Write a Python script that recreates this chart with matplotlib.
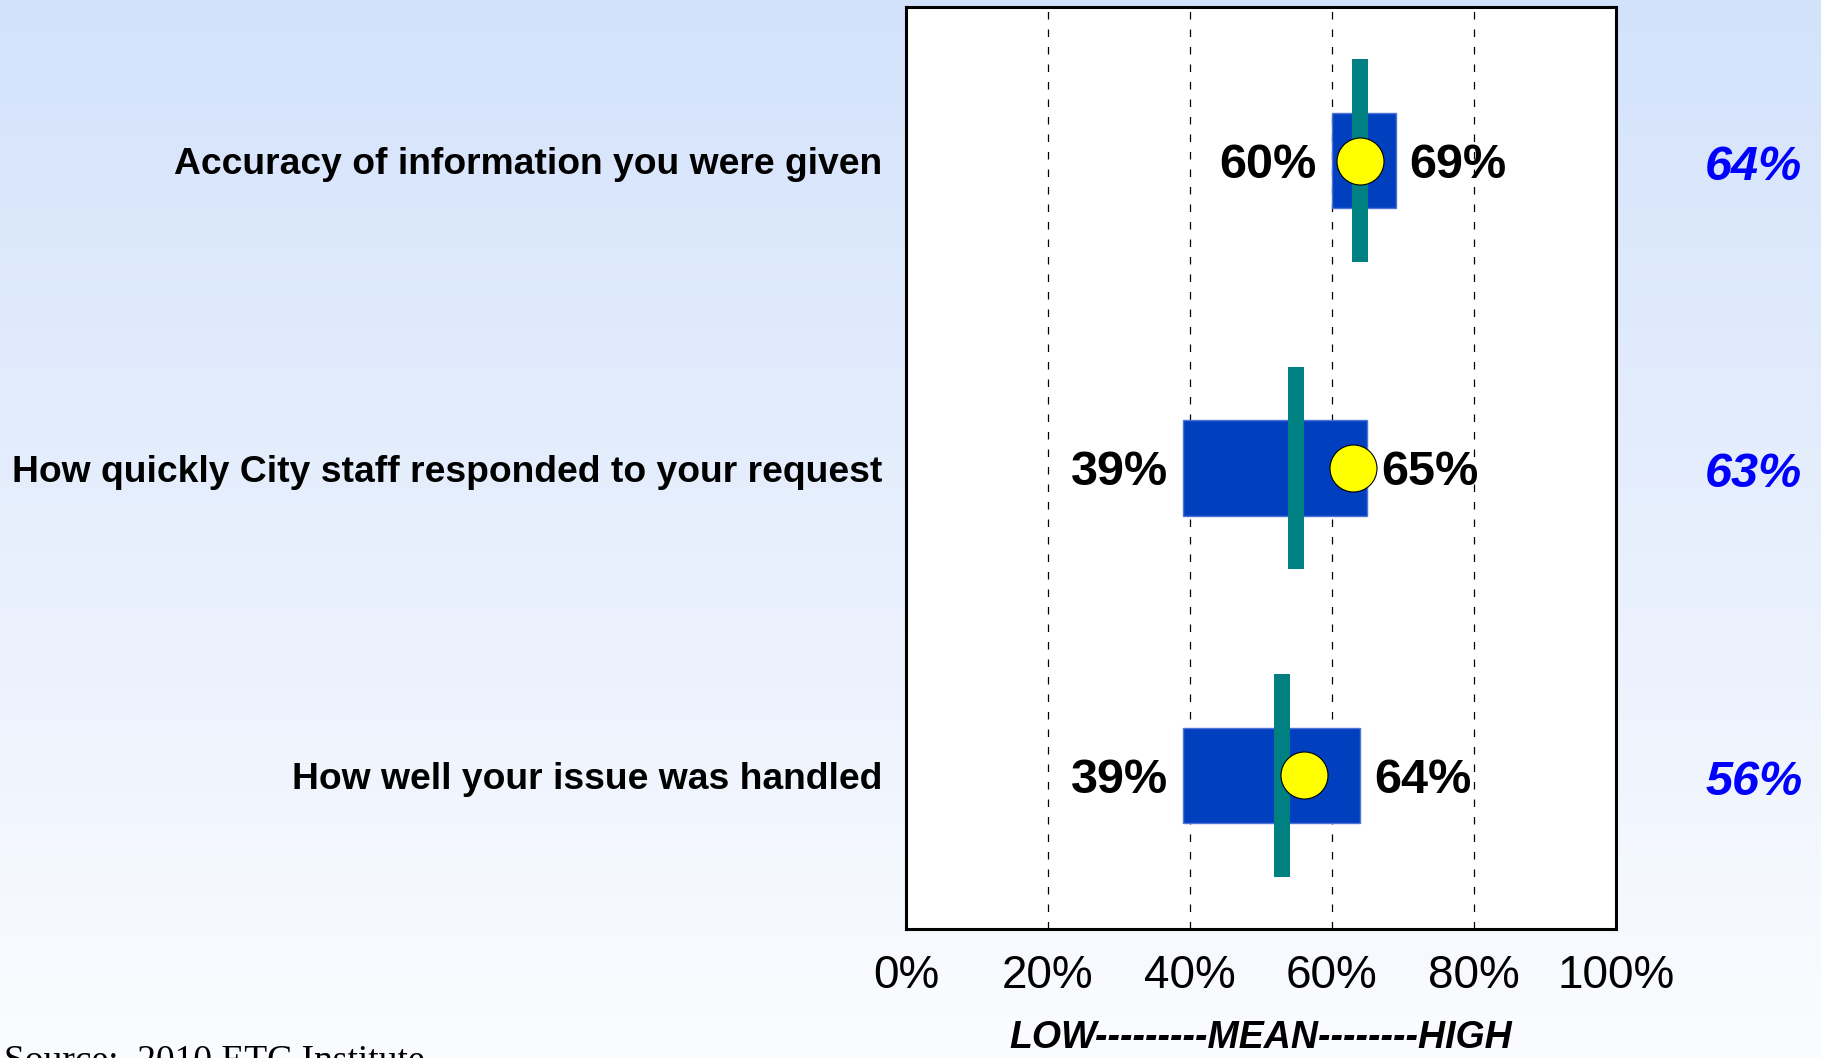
"""
Customer service ratings: range of results (blue bar), city result (yellow dot)
and benchmark (teal line), with the city percentage repeated on the right.
"""

import numpy as np
import matplotlib.pyplot as plt
from matplotlib.patches import Rectangle
from matplotlib.colors import LinearSegmentedColormap

# DATA
categories = [
    "Accuracy of information you were given",
    "How quickly City staff responded to your request",
    "How well your issue was handled",
]
low_values = [60, 39, 39]
high_values = [69, 65, 64]
city_values = [64, 63, 56]
benchmark_values = [64, 55, 53]
tick_values = [0, 20, 40, 60, 80, 100]
tick_labels = [f"{v}%" for v in tick_values]
scale_label = "LOW---------MEAN--------HIGH"
source_text = "Source:  2010 ETC Institute"

SANS = "Liberation Sans"
SERIF = "Liberation Serif"


def draw_chart():
    fig = plt.figure(figsize=(18.21, 10.58), dpi=100)

    # 1. Background gradient (light blue -> near white)
    bg = fig.add_axes([0, 0, 1, 1], zorder=-10)
    cmap = LinearSegmentedColormap.from_list("bg", ["#FBFCFF", "#D3E2FB"])
    grad = np.linspace(0, 1, 256).reshape(-1, 1)
    bg.imshow(grad, aspect="auto", cmap=cmap, origin="lower",
              extent=[0, 1, 0, 1])
    bg.axis("off")

    # 2. Main plotting area
    ax = fig.add_axes([0.4975, 0.1219, 0.3899, 0.8715])
    ax.set_facecolor("white")
    ax.set_xlim(0, 100)
    ax.set_ylim(0, len(categories))

    for side in ax.spines.values():
        side.set_linewidth(2.2)
        side.set_color("black")

    for gx in [20, 40, 60, 80]:
        ax.axvline(gx, color="black", lw=0.9, ls=(0, (6, 8)), zorder=1)

    n = len(categories)
    for i, cat in enumerate(categories):
        y = n - 0.5 - i
        lo, hi = low_values[i], high_values[i]

        # range bar
        ax.add_patch(Rectangle((lo, y - 0.155), hi - lo, 0.31,
                               facecolor="#0040BF", edgecolor="#4D74D6",
                               lw=1, zorder=2))
        # benchmark line
        bw = 2.25
        ax.add_patch(Rectangle((benchmark_values[i] - bw / 2, y - 0.33),
                               bw, 0.66, facecolor="#008080",
                               edgecolor="none", zorder=3))
        # city result
        ax.scatter([city_values[i]], [y], s=1145, c="#FFFF00",
                   edgecolors="black", linewidths=0.8, zorder=4)

        # low / high labels
        ax.annotate(f"{lo}%", (lo, y), xytext=(-11, -12.5),
                    textcoords="offset points", ha="right", va="baseline",
                    fontsize=35, fontweight="bold", family=SANS, zorder=5)
        ax.annotate(f"{hi}%", (hi, y), xytext=(10, -12.5),
                    textcoords="offset points", ha="left", va="baseline",
                    fontsize=35, fontweight="bold", family=SANS, zorder=5)

        # city value on the right, outside the box
        ax.annotate(f"{city_values[i]}%", (119.4, y), xytext=(0, -14),
                    textcoords="offset points", ha="center", va="baseline",
                    annotation_clip=False, fontsize=35, fontweight="bold",
                    fontstyle="italic", color="#0000FF", family=SANS)

    ax.set_yticks([n - 0.5 - i for i in range(n)])
    ax.set_yticklabels(categories, fontsize=26.8, fontweight="bold",
                       family=SANS)
    ax.set_xticks(tick_values)
    ax.set_xticklabels(tick_labels, fontsize=33, family=SANS)
    ax.tick_params(axis="both", length=0)
    ax.tick_params(axis="y", pad=17)
    ax.tick_params(axis="x", pad=18)

    ax.set_xlabel(scale_label, fontsize=27, fontweight="bold",
                  fontstyle="italic", family=SANS, labelpad=16)

    fig.text(0.002, -0.0125, source_text, ha="left", va="baseline",
             fontsize=27, family=SERIF)

    fig.savefig("out.png", dpi=100)


if __name__ == "__main__":
    draw_chart()
